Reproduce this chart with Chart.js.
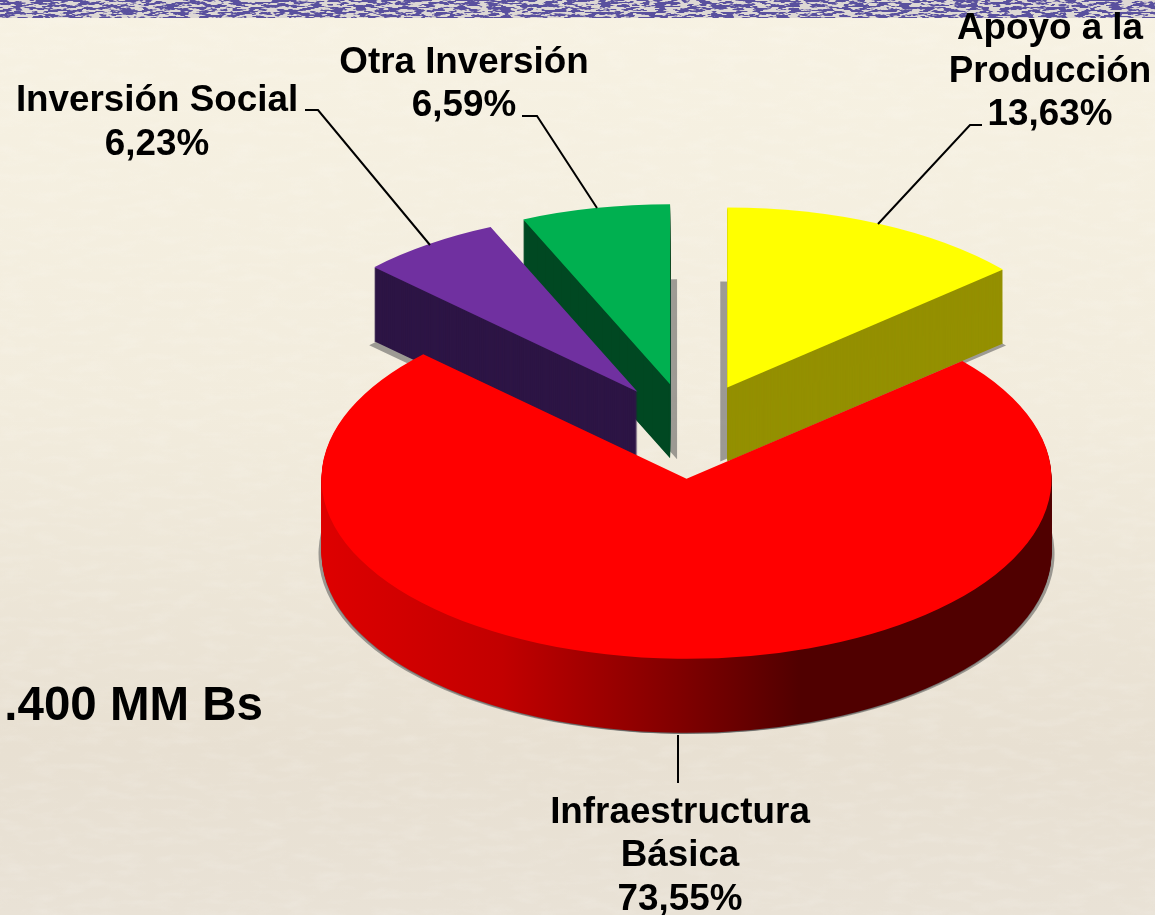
<!DOCTYPE html>
<html><head><meta charset="utf-8">
<script src="https://cdn.jsdelivr.net/npm/chart.js@4"></script>
<style>
html,body{margin:0;padding:0;width:1155px;height:915px;overflow:hidden;background:linear-gradient(180deg,#f7f2e3 0%,#f2ecdd 45%,#e8e0d2 82%,#e9e2d6 100%);}
#band{position:absolute;left:0;top:0;width:1155px;height:18px;display:block;}
#paper{position:absolute;left:0;top:0;width:1155px;height:915px;display:block;}
#c{position:absolute;left:0;top:0;}
</style></head><body>
<svg id="paper" xmlns="http://www.w3.org/2000/svg">
<filter id="pf" x="0" y="0" width="100%" height="100%"><feTurbulence type="fractalNoise" baseFrequency="0.035 0.11" numOctaves="3" seed="5"/><feColorMatrix values="0 0 0 0 1  0 0 0 0 1  0 0 0 0 1  1.4 0 0 0 -0.62"/></filter>
<rect width="1155" height="915" filter="url(#pf)" opacity="0.2"/>
</svg>
<svg id="band" xmlns="http://www.w3.org/2000/svg">
<filter id="bf" x="0" y="0" width="100%" height="100%"><feTurbulence type="fractalNoise" baseFrequency="0.09 0.4" numOctaves="3" seed="11"/><feColorMatrix values="0 0 0 0 0.1  0 0 0 0 0.08  0 0 0 0 0.34  12 0 0 0 -5.4"/></filter>
<rect width="1155" height="18" fill="#ddd8d4"/>
<rect width="1155" height="18" filter="url(#bf)"/>
</svg>
<canvas id="c" width="1155" height="915"></canvas>
<script>
const categories = ['Apoyo a la Producción','Infraestructura Básica','Inversión Social','Otra Inversión'];
const shares = [13.63,73.55,6.23,6.59];
const topColors = ['#ffff00','#ff0000','#7030a0','#00b050'];
const sideColors = ['#949000',null,'#2d1545','#004822'];
const drawOrder = [3,2,0,1];
const sliceNudgeX = [-2,0,4,1];
const shadowShifts = [[[-7,0],[3,2]],[[-3,1],[3,1],[0,1]],[[-5,4]],[[7,1]]];
const labelLines = [
 {lines:['Apoyo a la','Producción','13,63%'],x:1050,y:[39,82,125]},
 {lines:['Infraestructura','Básica','73,55%'],x:680,y:[823,866,910]},
 {lines:['Inversión Social'],x:157,y:[111]},
 {lines:['6,23%'],x:157,y:[155]},
 {lines:['Otra Inversión','6,59%'],x:464,y:[73,116]}
];
const leaders = [
 [[982,125],[970,125],[878,224]],
 [[678,735],[678,783]],
 [[305,110],[318,110],[430,245]],
 [[522,116],[537,116],[597,208]]
];
const squash=0.493, explode=97, depth=74, centerY=431;

function redSide(ctx){
  const g=ctx.createLinearGradient(322,0,1052,0);
  g.addColorStop(0,'#de0000');g.addColorStop(0.25,'#c20000');g.addColorStop(0.5,'#7e0000');
  g.addColorStop(0.66,'#500000');g.addColorStop(1,'#500000');
  return g;
}
function paint(ctx,el,color,dx,dy){
  const saved=el.options;
  el.options={backgroundColor:color,borderColor:'transparent',borderWidth:0,offset:0,spacing:0,borderRadius:0,circular:true,borderAlign:'center',borderJoinStyle:'round'};
  const mid=(el.startAngle+el.endAngle)/2;
  ctx.save();
  ctx.translate(dx+Math.cos(mid)*explode,centerY+dy+Math.sin(mid)*explode*squash);
  ctx.scale(1,squash);
  ctx.translate(0,-el.y);
  el.draw(ctx);
  ctx.restore();
  el.options=saved;
}
const pie3d={id:'pie3d',
 beforeDatasetsDraw(chart){
  const ctx=chart.ctx, arcs=chart.getDatasetMeta(0).data;
  drawOrder.forEach(i=>{
    shadowShifts[i].forEach(s=>paint(ctx,arcs[i],'rgba(85,85,85,0.55)',s[0]+sliceNudgeX[i],depth+s[1]));
  });
  const rs=redSide(ctx);
  drawOrder.forEach(i=>{
    const side=sideColors[i]||rs;
    for(let d=depth;d>0;d--) paint(ctx,arcs[i],side,sliceNudgeX[i],d);
    paint(ctx,arcs[i],topColors[i],sliceNudgeX[i],0);
  });
  return false;
 },
 afterDraw(chart){
  const ctx=chart.ctx;
  ctx.save();
  ctx.strokeStyle='#000';ctx.lineWidth=2;
  leaders.forEach(p=>{ctx.beginPath();p.forEach((q,k)=>k?ctx.lineTo(q[0],q[1]):ctx.moveTo(q[0],q[1]));ctx.stroke();});
  ctx.fillStyle='#000';ctx.textAlign='center';ctx.textBaseline='alphabetic';
  ctx.font='bold 36.8px "Liberation Sans",Arial,sans-serif';
  labelLines.forEach(b=>b.lines.forEach((t,k)=>ctx.fillText(t,b.x,b.y[k])));
  ctx.font='bold 47.5px "Liberation Sans",Arial,sans-serif';
  ctx.textAlign='right';
  ctx.fillText('.400 MM Bs',263,720);
  ctx.restore();
 }
};
new Chart(document.getElementById('c'),{
 type:'pie',
 data:{labels:categories,datasets:[{data:shares,backgroundColor:topColors,borderWidth:0}]},
 options:{responsive:false,animation:false,
  layout:{padding:{left:223,right:0,top:92,bottom:93}},
  plugins:{legend:{display:false},tooltip:{enabled:false},title:{display:false}}},
 plugins:[pie3d]
});
</script>
</body></html>
